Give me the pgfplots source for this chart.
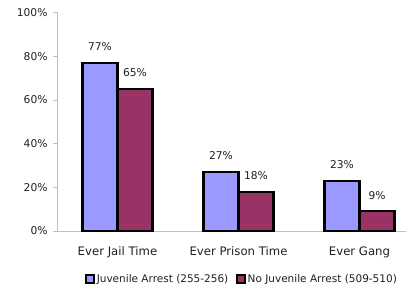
\documentclass[border=0pt]{standalone}
\usepackage{pgfplots}
\pgfplotsset{compat=1.18}
\usepackage{fontspec}
\setmainfont{DejaVu Sans}
\definecolor{juv}{HTML}{9999FF}
\definecolor{nojuv}{HTML}{993366}
\definecolor{axgray}{HTML}{BFBFBF}
\definecolor{txt}{HTML}{202020}
\begin{document}
\begin{tikzpicture}
\begin{axis}[
  name=ax,
  scale only axis,
  width=363bp, height=218.5bp,
  xmin=-0.5, xmax=2.5,
  ymin=0, ymax=100,
  ybar=0pt, bar width=35bp,
  axis x line*=bottom, axis y line*=left,
  axis line style={axgray, line width=0.8pt},
  xtick={0,1,2},
  xticklabels={Ever Jail Time, Ever Prison Time, Ever Gang},
  major x tick style={draw=none},
  extra x ticks={-0.5,0.5,1.5,2.5},
  extra x tick labels={},
  extra x tick style={tick style={axgray, line width=0.8pt}, major tick length=4bp, tick align=outside},
  ytick={0,20,40,60,80,100},
  yticklabel={\pgfmathprintnumber{\tick}\%},
  ytick style={axgray, line width=0.8pt},
  major tick length=4bp, tick align=outside,
  xticklabel style={font=\fontsize{11.7bp}{13bp}\selectfont, text=txt, yshift=-8bp},
  yticklabel style={font=\fontsize{10.7bp}{12bp}\selectfont, text=txt, xshift=-2bp},
  /pgf/number format/assume math mode=true,
  nodes near coords={\pgfmathprintnumber{\pgfplotspointmeta}\%},
  every node near coord/.append style={font=\fontsize{10.7bp}{12bp}\selectfont, text=txt, anchor=south, inner sep=0pt, yshift=11bp},
  legend style={at={(axis description cs:0.51,-0.22)}, anchor=center, draw=none, legend columns=2,
    font=\fontsize{10.5bp}{12bp}\selectfont, text=txt, /tikz/every even column/.append style={column sep=6bp}},
  legend image code/.code={\draw[#1, line width=1.4pt] (0bp,-4bp) rectangle (8bp,4bp);},
  clip=false,
]
\addplot[fill=juv, draw=black, line width=2.2pt] coordinates {(0,77) (1,27) (2,23)};
\addplot[fill=nojuv, draw=black, line width=2.2pt] coordinates {(0,65) (1,18) (2,9)};
\legend{Juvenile Arrest (255-256), No Juvenile Arrest (509-510)}
\end{axis}
\pgfresetboundingbox
\path (ax.south west) ++(-57bp,-68bp) rectangle ++(406bp,299bp);
\end{tikzpicture}
\end{document}
